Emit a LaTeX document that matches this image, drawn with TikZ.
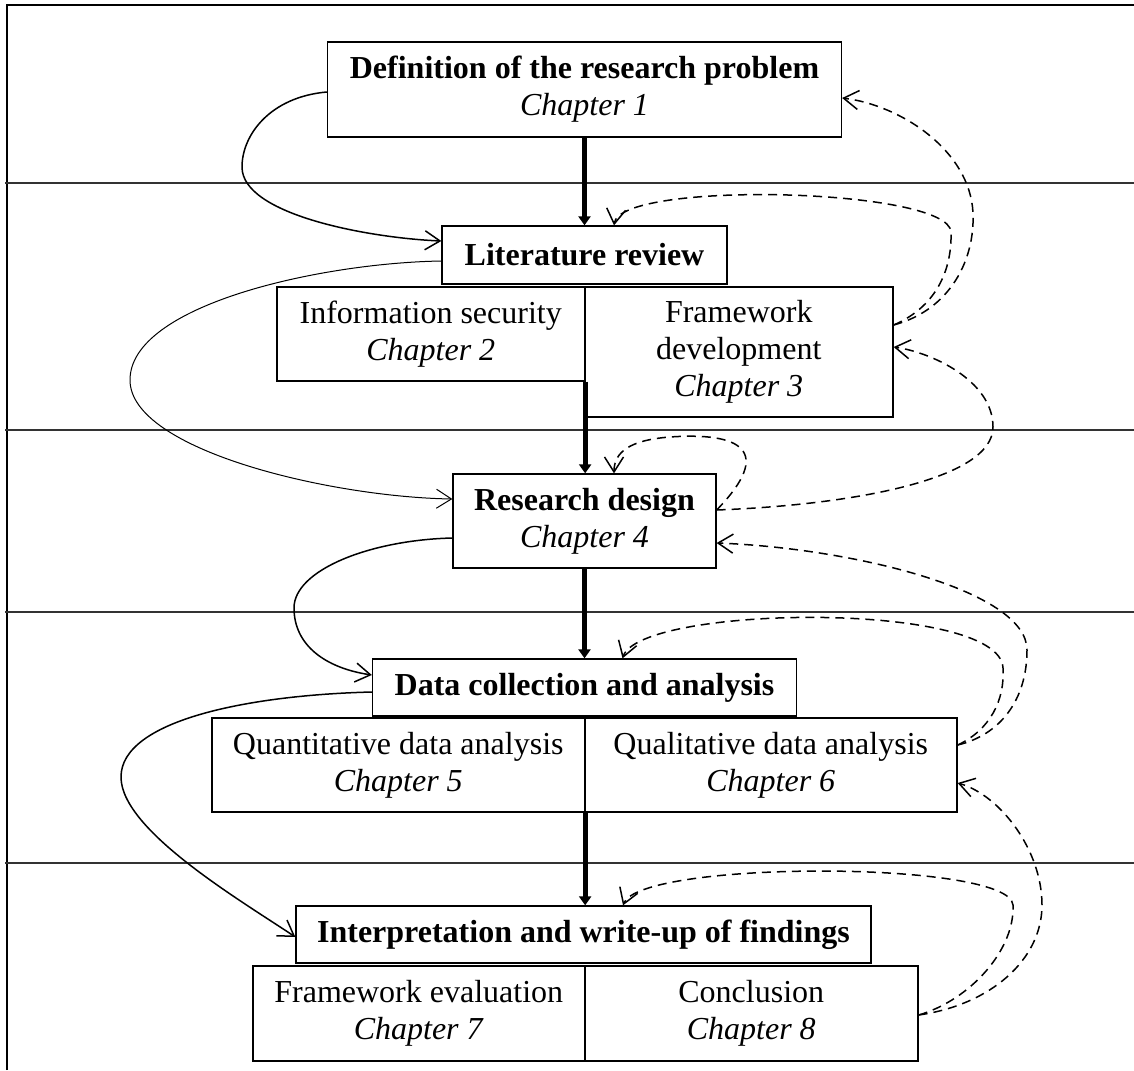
\documentclass[tikz,border=0pt]{standalone}
\usepackage{fontspec}
\setmainfont{Liberation Serif}
\usetikzlibrary{arrows.meta,calc}
\begin{document}
\begin{tikzpicture}[x=1pt,y=-1pt,
  box/.style={draw, line width=1.3pt, inner sep=0pt, align=center,
    font=\fontsize{32}{37}\selectfont},
  divider/.style={line width=2.6pt},
  flow/.style={line width=4.8pt, -{Triangle[width=12pt,length=9pt]}},
  link/.style={line width=1.5pt, -{Straight Barb[length=15pt,width=19pt]}},
  back/.style={link, dash pattern=on 9pt off 6pt},
  rule/.style={line width=1.1pt, black!80},
]
\useasboundingbox (0,0) rectangle (1134,1070);

% frame and stage separators
\draw[line width=2pt] (7,1070) -- (7,5) -- (1134,5);
\foreach \y in {183,430,612,863} \draw[rule] (5,\y) -- (1134,\y);

% stages
\node[box, minimum width=514pt, minimum height=95pt] (def) at (584.5,89.5)
  {\textbf{Definition of the research problem}\\\textit{Chapter 1}};
\node[box, minimum width=285pt, minimum height=58pt] (lit) at (584.5,255)
  {\textbf{Literature review}};
\node[box, minimum width=307.5pt, minimum height=94pt] (info) at (430.75,334)
  {Information security\\\textit{Chapter 2}};
\node[box, minimum width=308.5pt, minimum height=130pt] (fw) at (738.75,352)
  {Framework\\development\\\textit{Chapter 3}};
\node[box, minimum width=263pt, minimum height=94pt] (rd) at (584.5,521)
  {\textbf{Research design}\\\textit{Chapter 4}};
\node[box, minimum width=424pt, minimum height=57pt] (dc) at (584.5,687.5)
  {\textbf{Data collection and analysis}};
\node[box, minimum width=372.5pt, minimum height=94pt] (qn) at (398.25,765)
  {Quantitative data analysis\\\textit{Chapter 5}};
\node[box, minimum width=372.5pt, minimum height=94pt] (ql) at (770.75,765)
  {Qualitative data analysis\\\textit{Chapter 6}};
\node[box, minimum width=575pt, minimum height=57pt] (ip) at (583.5,934.5)
  {\textbf{Interpretation and write-up of findings}};
\node[box, minimum width=331.5pt, minimum height=95pt] (fe) at (418.75,1013.5)
  {Framework evaluation\\\textit{Chapter 7}};
\node[box, minimum width=333.5pt, minimum height=95pt] (cc) at (751.25,1013.5)
  {Conclusion\\\textit{Chapter 8}};

% shared edges of the paired boxes
\draw[divider] (info.north east) -- (info.south east);
\draw[divider] (qn.north east) -- (qn.south east);
\draw[divider] (fe.north east) -- (fe.south east);

% main flow
\draw[flow] (def.south) -- (def.south |- lit.north);
\draw[flow] (info.south east) -- (info.south east |- rd.north);
\draw[flow] (rd.south) -- (rd.south |- dc.north);
\draw[flow] (qn.south east) -- (qn.south east |- ip.north);

% forward links on the left
\draw[link] ($(def.west)+(0,2.5)$) .. controls (270,97) and (242,135) .. (242,167)
  .. controls (242,215) and (370,238) .. ($(lit.west)+(0,-14)$);
\draw[link, line width=1pt] ($(lit.west)+(0,6)$) .. controls (320,263) and (130,305) .. (130,380)
  .. controls (130,450) and (330,497) .. ($(rd.west)+(0,-22)$);
\draw[link] ($(rd.west)+(0,17)$) .. controls (370,540) and (294,570) .. (294,608)
  .. controls (294,645) and (325,668) .. ($(dc.west)+(0,-12.5)$);
\draw[link] ($(dc.west)+(0,4.5)$) .. controls (250,695) and (121,720) .. (121,777)
  .. controls (121,830) and (240,900) .. ($(ip.west)+(0,2.5)$);

% feedback loops on the right
\draw[back] ($(fw.east)+(0,-27)$) .. controls (950,310) and (975,260) .. (973,213)
  .. controls (970,150) and (900,105) .. ($(def.east)+(0,8.5)$);
\draw[back] ($(fw.east)+(0,-27)$) .. controls (940,305) and (952,265) .. (951,232)
  .. controls (949,188) and (620,180) .. ($(lit.north)+(29.5,0)$);
\draw[back] ($(rd.east)+(0,-11)$) .. controls (850,505) and (993,480) .. (993,427)
  .. controls (993,380) and (930,352) .. ($(fw.east)+(0,-5)$);
\draw[back] ($(rd.east)+(0,-11)$) .. controls (775,450) and (740,432) .. (670,437)
  .. controls (630,440) and (614,452) .. ($(rd.north)+(29.5,0)$);
\draw[back] ($(ql.east)+(0,-20)$) .. controls (1000,735) and (1027,700) .. (1027,650)
  .. controls (1027,590) and (850,548) .. ($(rd.east)+(0,22)$);
\draw[back] ($(ql.east)+(0,-20)$) .. controls (990,730) and (1005,700) .. (1003,668)
  .. controls (1000,600) and (640,605) .. ($(dc.north)+(38,0)$);
\draw[back] ($(cc.east)+(0,1.5)$) .. controls (990,1005) and (1042,960) .. (1042,905)
  .. controls (1042,850) and (1000,795) .. ($(ql.east)+(0,18)$);
\draw[back] ($(cc.east)+(0,1.5)$) .. controls (970,1000) and (1015,950) .. (1013,905)
  .. controls (1010,860) and (640,860) .. ($(ip.north)+(39.5,0)$);
\end{tikzpicture}
\end{document}
